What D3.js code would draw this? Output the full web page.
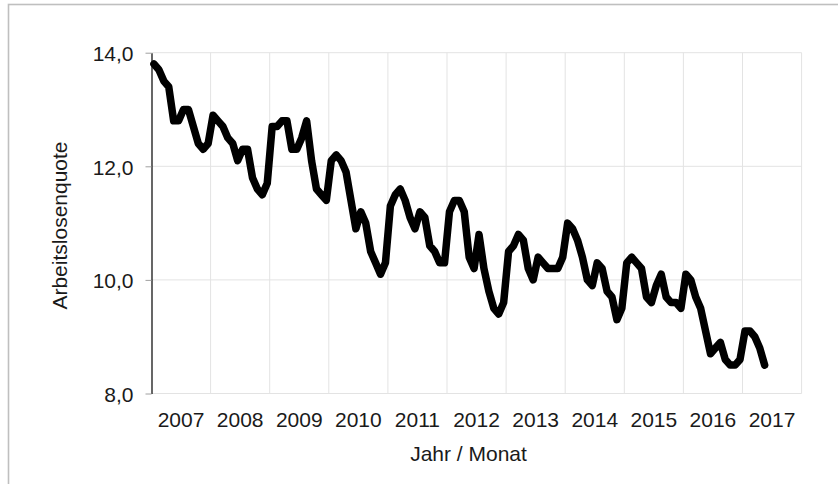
<!DOCTYPE html>
<html>
<head>
<meta charset="utf-8">
<script src="https://cdn.jsdelivr.net/npm/d3@7"></script>
<style>
  body { margin: 0; background: #fff; }
  svg { display: block; font-family: "Liberation Sans", Arial, sans-serif; }
</style>
</head>
<body>
<svg width="838" height="484"></svg>
<script>
  // monthly rate, Jan..Dec per year
  const q2007 = [13.8, 13.7, 13.5, 13.4, 12.8, 12.8, 13.0, 13.0, 12.7, 12.4, 12.3, 12.4];
  const q2008 = [12.9, 12.8, 12.7, 12.5, 12.4, 12.1, 12.3, 12.3, 11.8, 11.6, 11.5, 11.7];
  const q2009 = [12.7, 12.7, 12.8, 12.8, 12.3, 12.3, 12.5, 12.8, 12.1, 11.6, 11.5, 11.4];
  const q2010 = [12.1, 12.2, 12.1, 11.9, 11.4, 10.9, 11.2, 11.0, 10.5, 10.3, 10.1, 10.3];
  const q2011 = [11.3, 11.5, 11.6, 11.4, 11.1, 10.9, 11.2, 11.1, 10.6, 10.5, 10.3, 10.3];
  const q2012 = [11.2, 11.4, 11.4, 11.2, 10.4, 10.2, 10.8, 10.2, 9.8, 9.5, 9.4, 9.6];
  const q2013 = [10.5, 10.6, 10.8, 10.7, 10.2, 10.0, 10.4, 10.3, 10.2, 10.2, 10.2, 10.4];
  const q2014 = [11.0, 10.9, 10.7, 10.4, 10.0, 9.9, 10.3, 10.2, 9.8, 9.7, 9.3, 9.5];
  const q2015 = [10.3, 10.4, 10.3, 10.2, 9.7, 9.6, 9.9, 10.1, 9.7, 9.6, 9.6, 9.5];
  const q2016 = [10.1, 10.0, 9.7, 9.5, 9.1, 8.7, 8.8, 8.9, 8.6, 8.5, 8.5, 8.6];
  const q2017 = [9.1, 9.1, 9.0, 8.8, 8.5];

  const years = ["2007", "2008", "2009", "2010", "2011", "2012", "2013", "2014", "2015", "2016", "2017"];
  const yTicks = [8, 10, 12, 14];

  const values = [].concat(q2007, q2008, q2009, q2010, q2011, q2012, q2013, q2014, q2015, q2016, q2017);

  const svg = d3.select("svg");
  const plotLeft = 151.5, plotRight = 801.6, plotTop = 52.7, plotBottom = 393.5;

  const x = d3.scaleLinear().domain([0, years.length * 12]).range([plotLeft, plotRight]);
  const y = d3.scaleLinear().domain([8, 14]).range([plotBottom, plotTop]);
  const fmt = d3.formatLocale({ decimal: ",", thousands: ".", grouping: [3], currency: ["", " €"] }).format(".1f");

  // outer chart frame (only top/left edges are in view)
  svg.append("rect")
    .attr("x", 8.5).attr("y", 4.5)
    .attr("width", 860).attr("height", 520)
    .attr("fill", "none")
    .attr("stroke", "#bfbfbf")
    .attr("stroke-width", 1.6);

  const grid = svg.append("g").attr("stroke", "#e3e3e3").attr("stroke-width", 1);
  grid.selectAll("line.h")
    .data(yTicks)
    .join("line")
    .attr("class", "h")
    .attr("x1", plotLeft).attr("x2", plotRight)
    .attr("y1", (d) => y(d)).attr("y2", (d) => y(d));
  grid.selectAll("line.v")
    .data(d3.range(1, years.length + 1))
    .join("line")
    .attr("class", "v")
    .attr("x1", (d) => x(d * 12)).attr("x2", (d) => x(d * 12))
    .attr("y1", plotTop).attr("y2", plotBottom);

  const yAxis = svg.append("g")
    .attr("transform", `translate(${plotLeft},0)`)
    .call(d3.axisLeft(y).tickValues(yTicks).tickSize(6).tickSizeOuter(0).tickPadding(12).tickFormat(fmt));
  yAxis.select(".domain").attr("stroke", "#000").attr("stroke-width", 1.2);
  yAxis.selectAll(".tick line").attr("stroke", "#a0a0a0");
  yAxis.selectAll(".tick text")
    .attr("font-size", 21)
    .attr("fill", "#1a1a1a")
    .attr("dy", "0.38em");

  svg.append("g")
    .selectAll("text")
    .data(years)
    .join("text")
    .attr("x", (d, i) => x(i * 12 + 6))
    .attr("y", 426.5)
    .attr("text-anchor", "middle")
    .attr("font-size", 21)
    .attr("fill", "#1a1a1a")
    .text((d) => d);

  const line = d3.line()
    .x((d, i) => x(i + 0.5))
    .y((d) => y(d));

  svg.append("path")
    .datum(values)
    .attr("d", line)
    .attr("fill", "none")
    .attr("stroke", "#000")
    .attr("stroke-width", 7.5)
    .attr("stroke-linejoin", "round")
    .attr("stroke-linecap", "round");

  svg.append("text")
    .attr("transform", "translate(66.5,225.5) rotate(-90)")
    .attr("text-anchor", "middle")
    .attr("font-size", 21)
    .attr("fill", "#1a1a1a")
    .text("Arbeitslosenquote");

  svg.append("text")
    .attr("x", 468.5)
    .attr("y", 461)
    .attr("text-anchor", "middle")
    .attr("font-size", 21)
    .attr("fill", "#1a1a1a")
    .text("Jahr / Monat");
</script>
</body>
</html>
